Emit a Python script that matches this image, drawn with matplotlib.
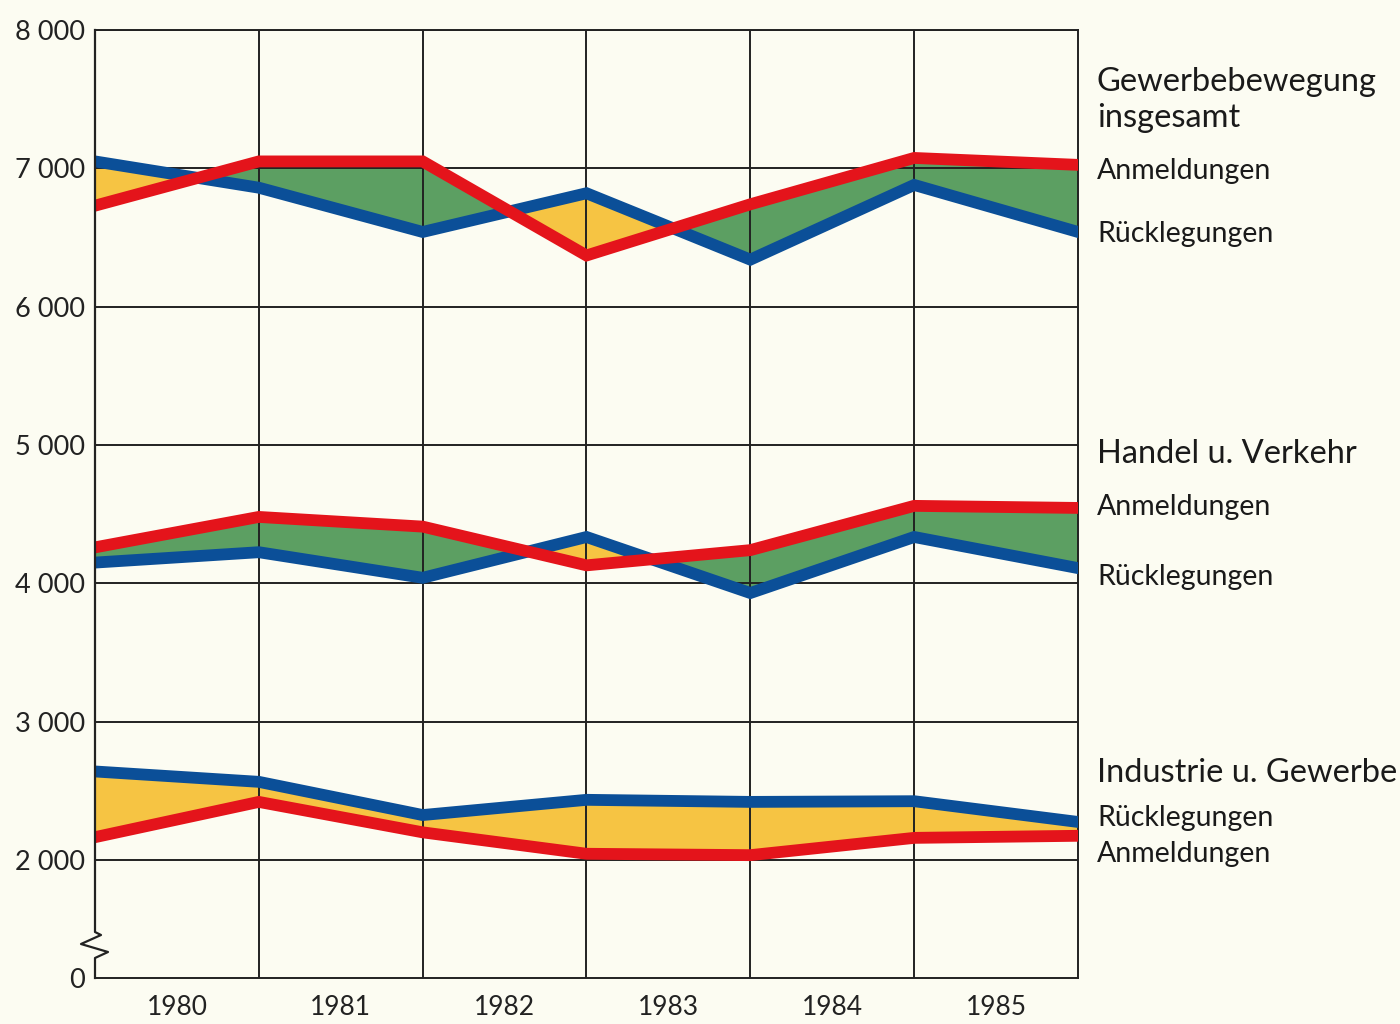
import numpy as np
import matplotlib
matplotlib.use("Agg")
import matplotlib.pyplot as plt

# Daten (Anmeldungen / Rücklegungen)
jahre = ["1980", "1981", "1982", "1983", "1984", "1985"]
punkte = [0, 1, 2, 3, 4, 5, 6]

ges_anm = [6730, 7050, 7050, 6370, 6740, 7075, 7025]
ges_rue = [7050, 6860, 6540, 6820, 6340, 6880, 6540]

hv_anm = [4260, 4480, 4410, 4130, 4240, 4560, 4545]
hv_rue = [4150, 4225, 4040, 4335, 3930, 4335, 4110]

ig_anm = [2165, 2420, 2200, 2045, 2035, 2160, 2175]
ig_rue = [2640, 2565, 2325, 2435, 2420, 2425, 2275]

yticks = [2000, 3000, 4000, 5000, 6000, 7000, 8000]
ytick_labels = ["2 000", "3 000", "4 000", "5 000", "6 000", "7 000", "8 000"]

gruen = "#5c9f62"
gelb = "#f6c443"
blau = "#0b4f98"
rot = "#e4141b"
hintergrund = "#fcfcf2"
schrift = "Lato"

# Achse ist zwischen 0 und 2000 gestaucht: die 0 sitzt hier
y_null = 2000 - 853

fig = plt.figure(figsize=(14, 10.24), dpi=100)
fig.patch.set_facecolor(hintergrund)
ax = fig.add_axes([95/1400, 1 - 978/1024, 983/1400, 948/1024])
ax.set_facecolor(hintergrund)

x = np.array(punkte)
for anm, rue in [(ges_anm, ges_rue), (hv_anm, hv_rue), (ig_anm, ig_rue)]:
    anm = np.array(anm)
    rue = np.array(rue)
    ax.fill_between(x, anm, rue, where=anm >= rue, interpolate=True,
                    color=gruen, lw=0, zorder=1)
    ax.fill_between(x, anm, rue, where=anm <= rue, interpolate=True,
                    color=gelb, lw=0, zorder=1)

# Gitter über den Flächen, unter den Linien
for yv in yticks:
    ax.axhline(yv, color="#222222", lw=1.4, zorder=2)
for xv in punkte[1:-1]:
    ax.axvline(xv, color="#222222", lw=1.4, zorder=2)

for anm, rue in [(ges_anm, ges_rue), (hv_anm, hv_rue), (ig_anm, ig_rue)]:
    ax.plot(x, rue, color=blau, lw=8.5, solid_joinstyle="miter", zorder=3)
    ax.plot(x, anm, color=rot, lw=8.5, solid_joinstyle="miter", zorder=4)

ax.set_xlim(0, 6)
ax.set_ylim(y_null, 8000)
ax.set_yticks([y_null] + yticks)
ax.set_yticklabels(["0"] + ytick_labels, fontsize=19.5, family=schrift, color="#222222")
ax.set_xticks([i + 0.5 for i in range(6)])
ax.set_xticklabels(jahre, fontsize=19, family=schrift, color="#222222")
ax.tick_params(axis="x", length=0, pad=12)
ax.tick_params(axis="y", length=0, pad=7)

for s in ["top", "right", "bottom"]:
    ax.spines[s].set_color("#222222")
    ax.spines[s].set_linewidth(1.4)
ax.spines["left"].set_visible(False)

# linke Achse mit Bruchzeichen
w = 983.0
h = 948.0
def px(dx, ypx):
    return dx / w, (978 - ypx) / h
bruch = [px(0, 30), px(0, 932), px(6, 935), px(-14, 944), px(13, 952), px(0, 958), px(0, 978)]
bx, by = zip(*bruch)
ax.plot(bx, by, transform=ax.transAxes, color="#222222", lw=1.6, clip_on=False, zorder=5)

# Beschriftungen rechts
def txt(ypx, s, size):
    fig.text(1097/1400, 1 - ypx/1024, s, fontsize=size, family=schrift,
             color="#1a1a1a", va="center", ha="left")

txt(82, "Gewerbebewegung", 23.5)
txt(118, "insgesamt", 23.5)
txt(171, "Anmeldungen", 20.5)
txt(234, "Rücklegungen", 20.5)
txt(454, "Handel u. Verkehr", 23.5)
txt(507, "Anmeldungen", 20.5)
txt(577, "Rücklegungen", 20.5)
txt(773, "Industrie u. Gewerbe", 23.5)
txt(818, "Rücklegungen", 20.5)
txt(854, "Anmeldungen", 20.5)

fig.savefig("out.png", dpi=100, facecolor=fig.get_facecolor())
